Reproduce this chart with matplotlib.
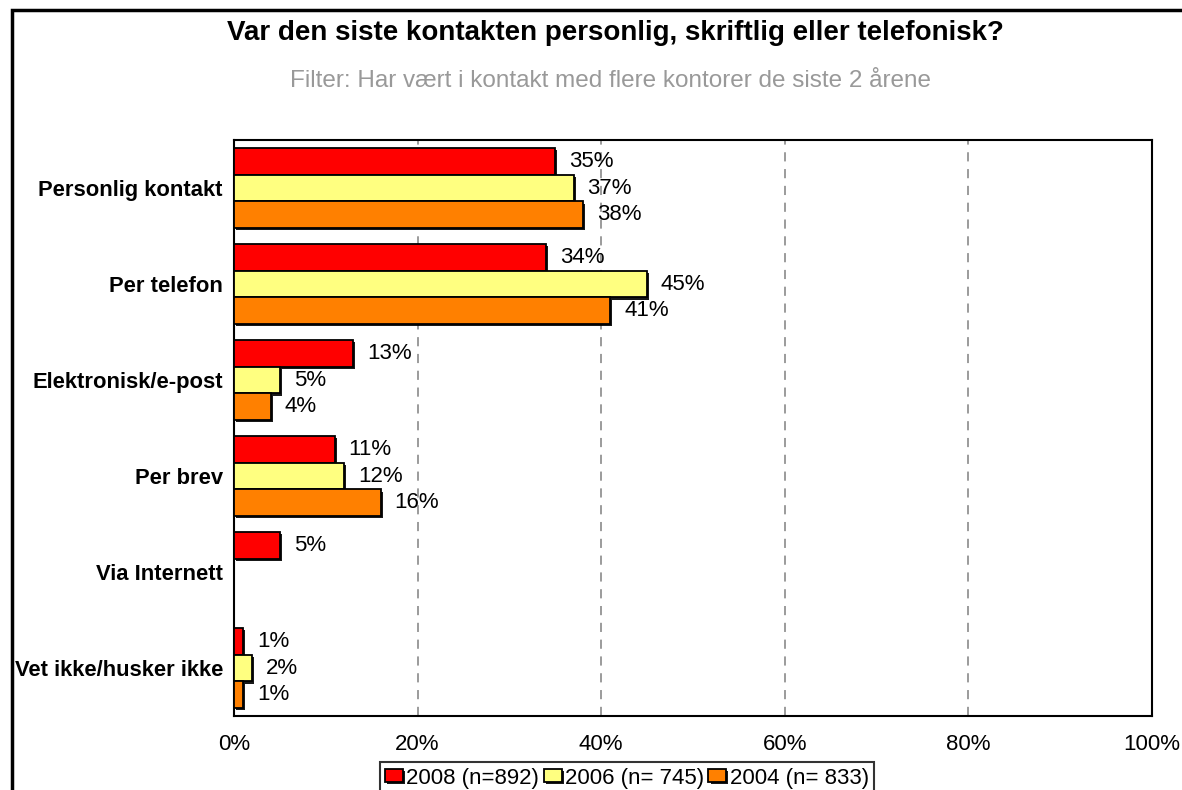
import matplotlib
matplotlib.use("Agg")
import matplotlib.pyplot as plt
import matplotlib.patheffects as pe
from matplotlib.patches import Rectangle

categories = ["Personlig kontakt", "Per telefon", "Elektronisk/e-post", "Per brev",
              "Via Internett", "Vet ikke/husker ikke"]
series_names = ["2008 (n=892)", "2006 (n= 745)", "2004 (n= 833)"]
v2008 = [35, 34, 13, 11, 5, 1]
v2006 = [37, 45, 5, 12, None, 2]
v2004 = [38, 41, 4, 16, None, 1]
colors = ["#FF0000", "#FFFF80", "#FF8000"]
xticks = [0, 20, 40, 60, 80, 100]

plt.rcParams['font.family'] = ['Liberation Sans', 'DejaVu Sans']

fig = plt.figure(figsize=(11.82, 7.90), dpi=100)
ax = fig.add_axes([234/1182, 1-716/790, (1152-234)/1182, (716-140)/790])

# outer border
fig.patches.append(Rectangle((12/1182, -0.05), 1.1, 1-10/790+0.05, transform=fig.transFigure,
                             fill=False, edgecolor='black', linewidth=2.5, zorder=0))

n = len(categories)
bh = 0.28
for si, (vals, col, name) in enumerate(zip([v2008, v2006, v2004], colors, series_names)):
    ys, ws = [], []
    for ci, v in enumerate(vals):
        if v is None:
            continue
        ys.append(ci + (si - 1) * bh)
        ws.append(v)
    ax.barh(ys, ws, height=bh, color=col, edgecolor='black', linewidth=1.3,
            label=name, zorder=3,
            path_effects=[pe.SimplePatchShadow(offset=(1.5, -1.5), shadow_rgbFace='black', alpha=0.9),
                          pe.Normal()])
    for y, w in zip(ys, ws):
        ax.text(w + 1.5, y, f"{w}%", va='center', ha='left', fontsize=16, zorder=5)

ax.set_ylim(n - 0.5, -0.5)
ax.set_xlim(0, 100)
ax.set_yticks(range(n))
ax.set_yticklabels(categories, fontsize=15.8, fontweight='bold')
ax.set_xticks(xticks)
ax.set_xticklabels([f"{t}%" for t in xticks], fontsize=16)
ax.tick_params(axis='both', length=0)
ax.tick_params(axis='x', pad=13)
ax.tick_params(axis='y', pad=8)
for x in xticks[1:-1]:
    ax.axvline(x, color='#808080', linestyle=(0, (6, 5)), linewidth=1.1, zorder=1)
for sp in ax.spines.values():
    sp.set_linewidth(1.5)

fig.text(615/1182, 1-33/790, "Var den siste kontakten personlig, skriftlig eller telefonisk?",
         ha='center', va='center', fontsize=20, fontweight='bold')
fig.text(611/1182, 1-81/790, "Filter: Har vært i kontakt med flere kontorer de siste 2 årene",
         ha='center', va='center', fontsize=17.5, color='#999999')

leg = fig.legend(loc='upper center', bbox_to_anchor=(627/1182, 1-762/790), ncol=3,
                 frameon=True, fancybox=False, edgecolor='black', fontsize=16,
                 handlelength=0.8, handleheight=0.55, handletextpad=0.15, columnspacing=0.2,
                 borderpad=0.25, borderaxespad=0)
leg.get_frame().set_linewidth(1.5)

fig.savefig("out.png", dpi=100)
